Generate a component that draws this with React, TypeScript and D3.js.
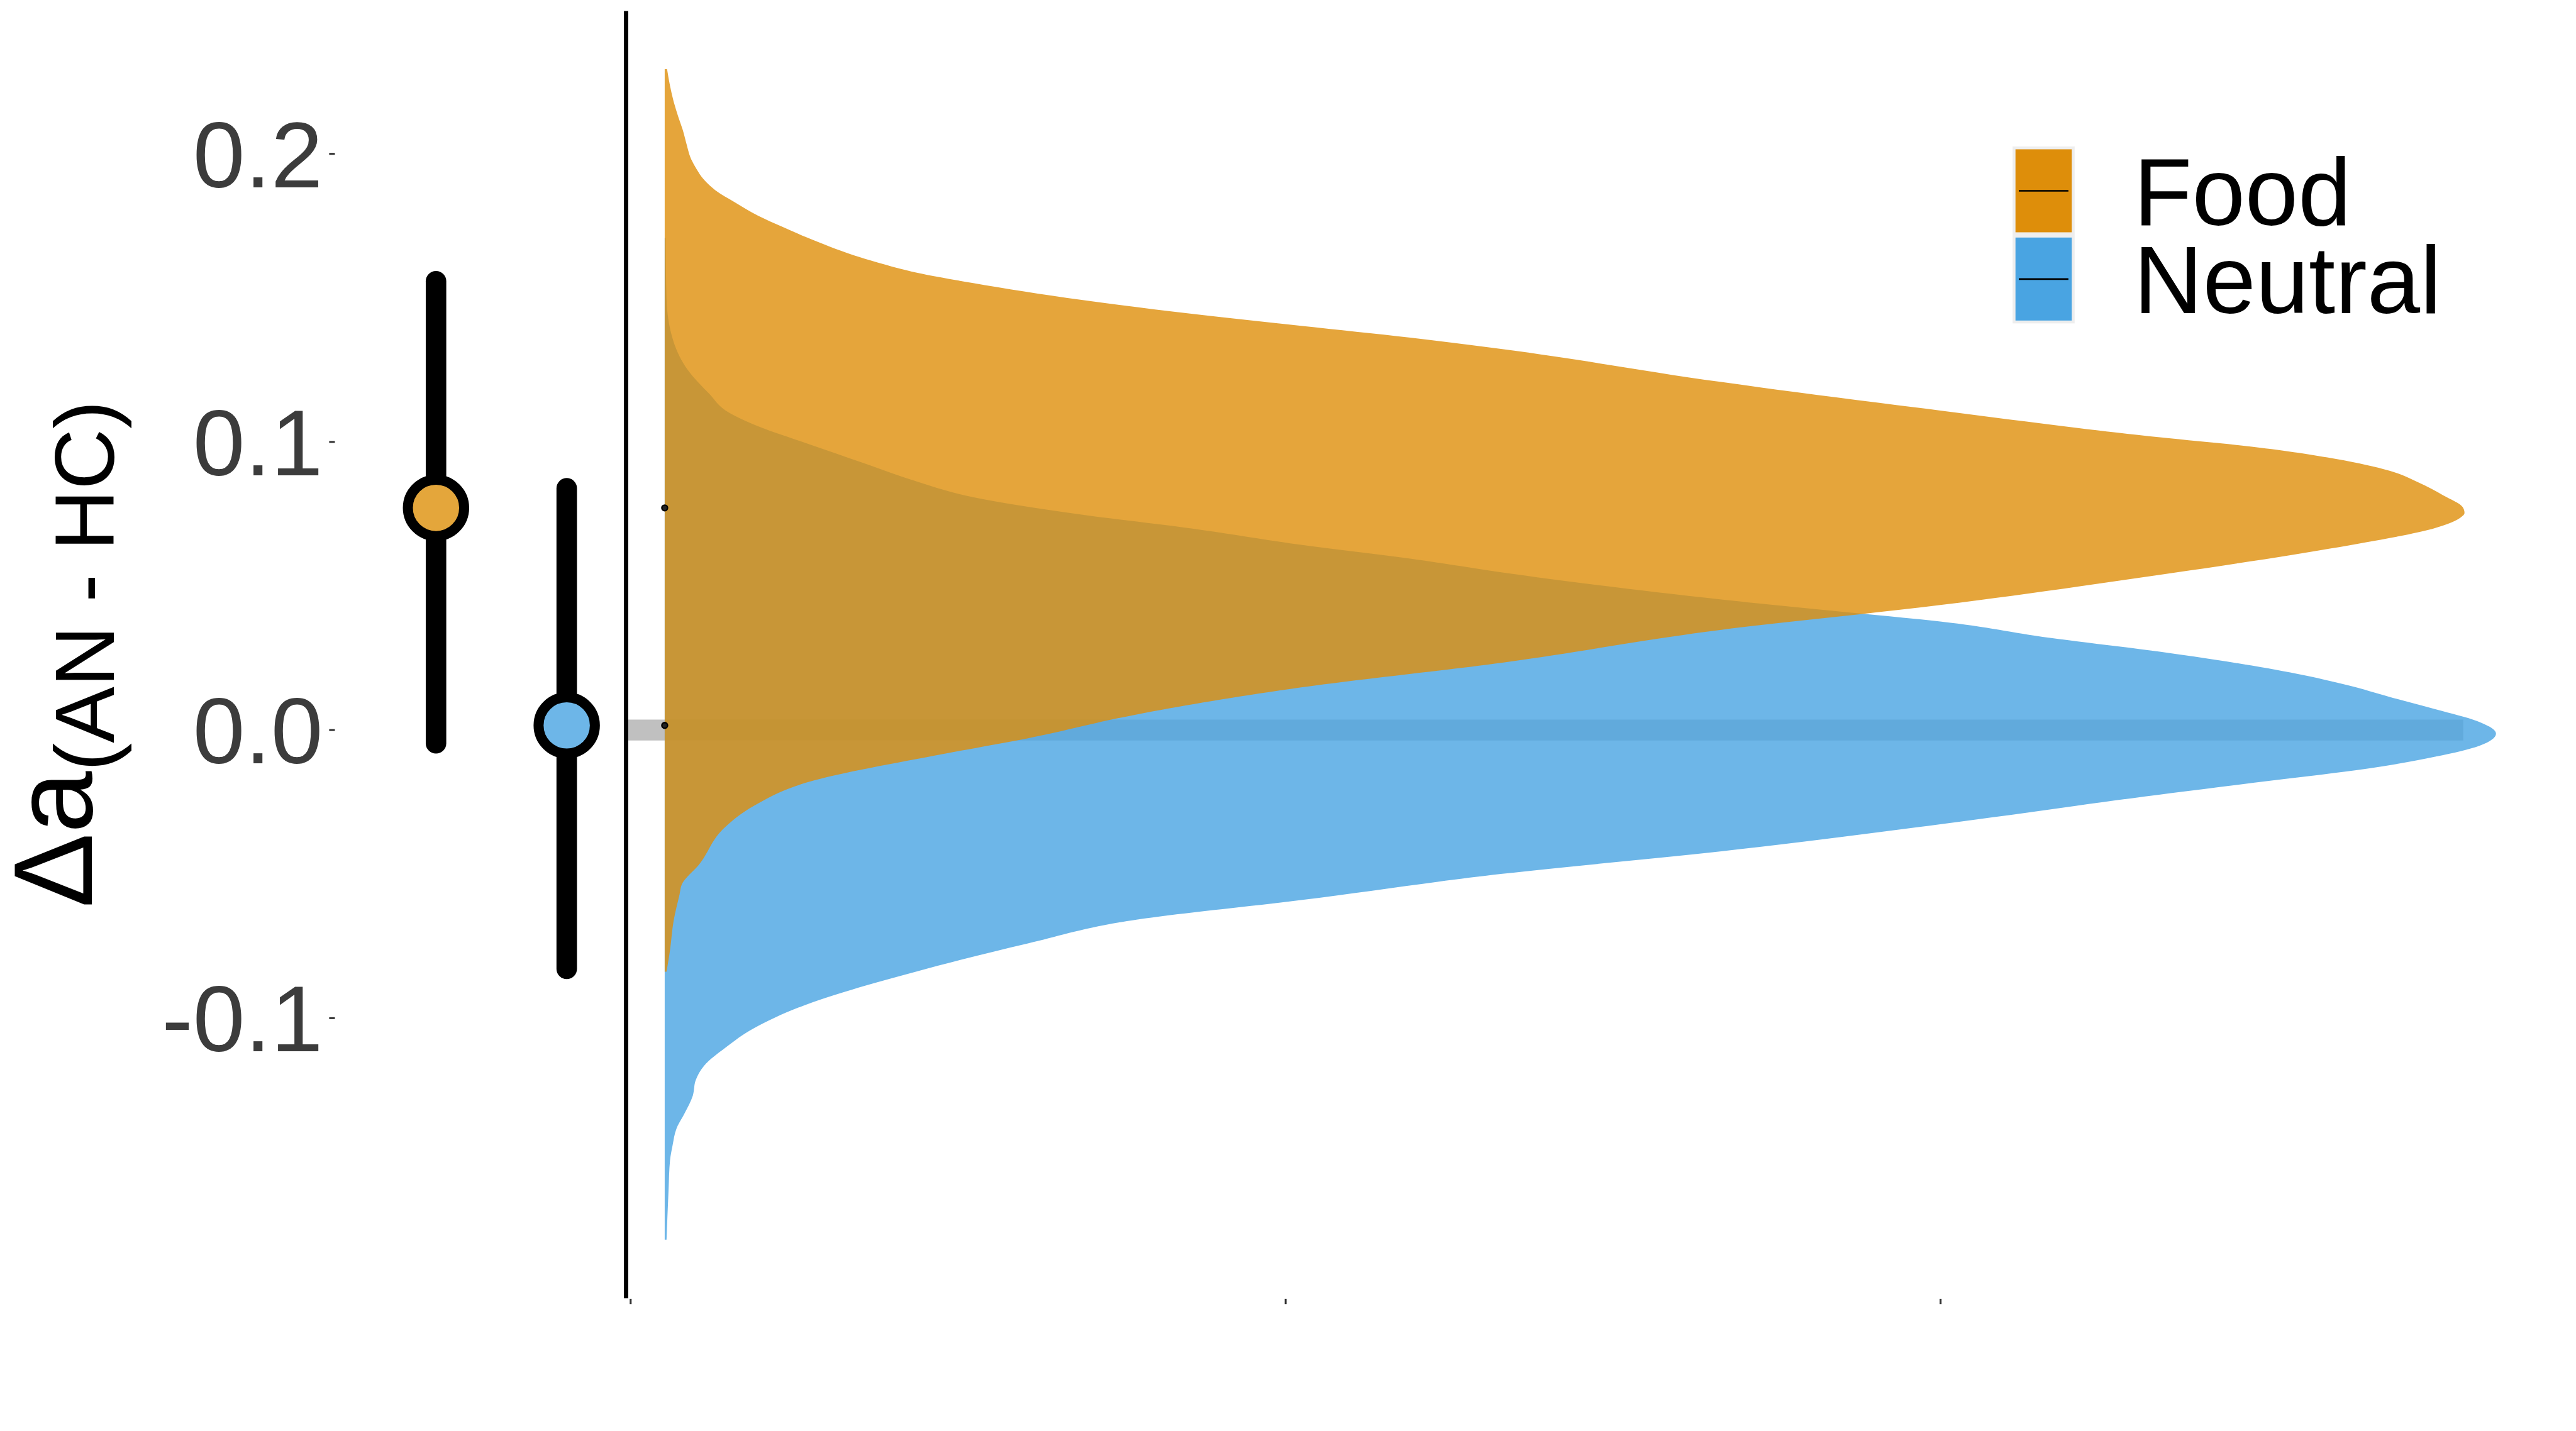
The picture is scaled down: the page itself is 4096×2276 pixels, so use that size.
import * as d3 from 'd3';

// groups and colours
const groups = ['Food', 'Neutral'];
const keyColors = ['#DE8E0A', '#49A4E2'];
const pointFills = ['#E4A63B', '#6DB6E8'];

// posterior summaries (median and interval) per group
const medians = [0.0771, 0.0016];
const lowers = [-0.0046, -0.0829];
const uppers = [0.1558, 0.0839];

// axes
const yTicks = [-0.1, 0, 0.1, 0.2];
const yTickLabels = ['-0.1', '0.0', '0.1', '0.2'];
const xTicks = [0, 1, 2];

// posterior densities (effect value, relative density)
const foodEffect = [
  0.2294, 0.2236, 0.2181, 0.2125, 0.2082, 0.2032, 0.1987, 0.1949, 0.1909, 0.1874, 0.1833, 0.1785, 0.1747,
  0.1711, 0.1678, 0.1648, 0.1623, 0.1587, 0.1552, 0.1493, 0.1445, 0.1403, 0.1362, 0.1322, 0.1208, 0.1109,
  0.1016, 0.0983, 0.0941, 0.09, 0.0859, 0.0815, 0.0774, 0.0754, 0.0737, 0.0693, 0.0651, 0.0608, 0.0569,
  0.0539, 0.0434, 0.0348, 0.0234, 0.0148, 0.0054, -0.0029, -0.0082, -0.0181, -0.0264, -0.0335, -0.0469,
  -0.0535, -0.0571, -0.0661, -0.0764, -0.0839,
];
const foodDensity = [
  0.0013, 0.0029, 0.0049, 0.0076, 0.0099, 0.012, 0.0141, 0.0172, 0.0216, 0.0276, 0.038, 0.0511, 0.0641,
  0.0771, 0.0901, 0.1032, 0.1162, 0.1381, 0.168, 0.2277, 0.2876, 0.3475, 0.4071, 0.4574, 0.577, 0.6965,
  0.8164, 0.8674, 0.9127, 0.9419, 0.9578, 0.9711, 0.9818, 0.9828, 0.9805, 0.962, 0.9286, 0.8888, 0.8489,
  0.8164, 0.6965, 0.577, 0.4574, 0.3475, 0.2576, 0.198, 0.1529, 0.0781, 0.0485, 0.0333, 0.0185, 0.0094,
  0.0081, 0.0049, 0.0029, 0.001,
];
const neutralEffect = [
  0.1708, 0.1498, 0.1347, 0.1251, 0.1166, 0.1109, 0.1061, 0.0994, 0.0928, 0.0862, 0.0809, 0.0748, 0.07,
  0.0643, 0.0595, 0.0547, 0.0453, 0.0405, 0.0377, 0.032, 0.0272, 0.0238, 0.0195, 0.0155, 0.0115, 0.0072,
  0.0031, -0.0012, -0.0054, -0.0092, -0.0135, -0.0175, -0.0219, -0.0327, -0.0421, -0.0499, -0.059, -0.0658,
  -0.0741, -0.0837, -0.0951, -0.1036, -0.1102, -0.1166, -0.1216, -0.1268, -0.133, -0.1382, -0.1445, -0.1494,
  -0.1597, -0.1769,
];
const neutralDensity = [
  0.0005, 0.001, 0.0049, 0.0125, 0.0245, 0.0333, 0.0485, 0.0781, 0.1081, 0.1381, 0.168, 0.2277, 0.2876,
  0.3475, 0.4071, 0.4574, 0.577, 0.6517, 0.6965, 0.7565, 0.8164, 0.8528, 0.8914, 0.9193, 0.9419, 0.9672,
  0.9898, 1.0, 0.9911, 0.9672, 0.9286, 0.8781, 0.8224, 0.6965, 0.577, 0.4574, 0.3475, 0.2576, 0.198, 0.1381,
  0.0781, 0.0485, 0.0333, 0.0214, 0.0169, 0.0154, 0.0109, 0.0065, 0.0042, 0.0029, 0.0021, 0.001,
];

const W = 5400;
const H = 3000;
const FONT = "'Liberation Sans', Arial, Helvetica, sans-serif";

export default function App() {
  // layout (reference pixels, scaled by the viewBox)
  const panelTop = 23;
  const panelBottom = 2722;
  const axisX = 1312.5;
  const slabBase = 0.052;
  const slabWidth = 2.796;
  const bandEnd = 2.798;

  const y = d3.scaleLinear().domain([-0.1, 0.2]).range([2134.5, 322.5]);
  const x = d3.scaleLinear().domain([0, 2]).range([1322, 4068]);
  const px = d3.scalePoint<string>().domain(groups).range([914, 1188]);

  const area = d3
    .area<[number, number]>()
    .y((d) => y(d[0]))
    .x0(x(slabBase))
    .x1((d) => x(slabBase + d[1] * slabWidth))
    .curve(d3.curveMonotoneY);

  const foodPts = foodEffect.map((e, i) => [e, foodDensity[i]] as [number, number]);
  const neutralPts = neutralEffect.map((e, i) => [e, neutralDensity[i]] as [number, number]);

  return (
    <svg
      width={4096}
      height={2276}
      viewBox={`0 0 ${W} ${H}`}
      preserveAspectRatio="none"
      style={{ position: 'absolute', left: 0, top: 0, background: '#fff', display: 'block' }}
      fontFamily={FONT}
    >
      <rect x={0} y={0} width={W} height={H} fill="#fff" />

      {/* zero band */}
      <line x1={axisX + 4} x2={x(bandEnd)} y1={y(0)} y2={y(0)} stroke="#C0C0C0" strokeWidth={44} />

      {/* slabs: neutral below, food on top */}
      <path d={area(neutralPts) || ''} fill={keyColors[1]} fillOpacity={0.8} />
      <path d={area(foodPts) || ''} fill={keyColors[0]} fillOpacity={0.8} />

      {/* tiny medians on slab base */}
      {medians.map((m, i) => (
        <circle key={i} cx={x(slabBase)} cy={y(m)} r={6} fill="#222" stroke="#000" strokeWidth={3} />
      ))}

      {/* vertical axis line of density panel */}
      <line x1={axisX} x2={axisX} y1={panelTop} y2={panelBottom} stroke="#000" strokeWidth={9} />

      {/* x ticks */}
      {xTicks.map((t) => (
        <line key={t} x1={x(t)} x2={x(t)} y1={panelBottom + 1} y2={panelBottom + 12} stroke="#333" strokeWidth={4} />
      ))}

      {/* point intervals */}
      {groups.map((g, i) => (
        <g key={g}>
          <line
            x1={px(g)}
            x2={px(g)}
            y1={y(uppers[i])}
            y2={y(lowers[i])}
            stroke="#000"
            strokeWidth={43}
            strokeLinecap="round"
          />
          <circle cx={px(g)} cy={y(medians[i])} r={59} fill={pointFills[i]} stroke="#000" strokeWidth={21} />
        </g>
      ))}

      {/* y axis ticks and labels */}
      {yTicks.map((t, i) => (
        <g key={t}>
          <line x1={690} x2={702} y1={y(t)} y2={y(t)} stroke="#333" strokeWidth={4} />
          <text x={677} y={y(t) + 70} textAnchor="end" fontSize={196} fill="#3c3c3c">
            {yTickLabels[i]}
          </text>
        </g>
      ))}

      {/* y axis title */}
      <text transform="translate(192,1903) rotate(-90)" fill="#000">
        <tspan fontSize={234}>Δa</tspan>
        <tspan fontSize={177} dy={46}>
          (AN - HC)
        </tspan>
      </text>

      {/* legend */}
      <rect x={4219} y={307} width={130} height={371} fill="#EEEEEE" />
      {groups.map((g, i) => {
        const top = 313 + i * 185;
        return (
          <g key={g}>
            <rect x={4225} y={top} width={118} height={174} fill={keyColors[i]} />
            <line x1={4232} x2={4336} y1={top + 87} y2={top + 87} stroke="#000" strokeWidth={3.5} />
            <text x={4473} y={472 + i * 185} fontSize={200} fill="#000">
              {g}
            </text>
          </g>
        );
      })}
    </svg>
  );
}
